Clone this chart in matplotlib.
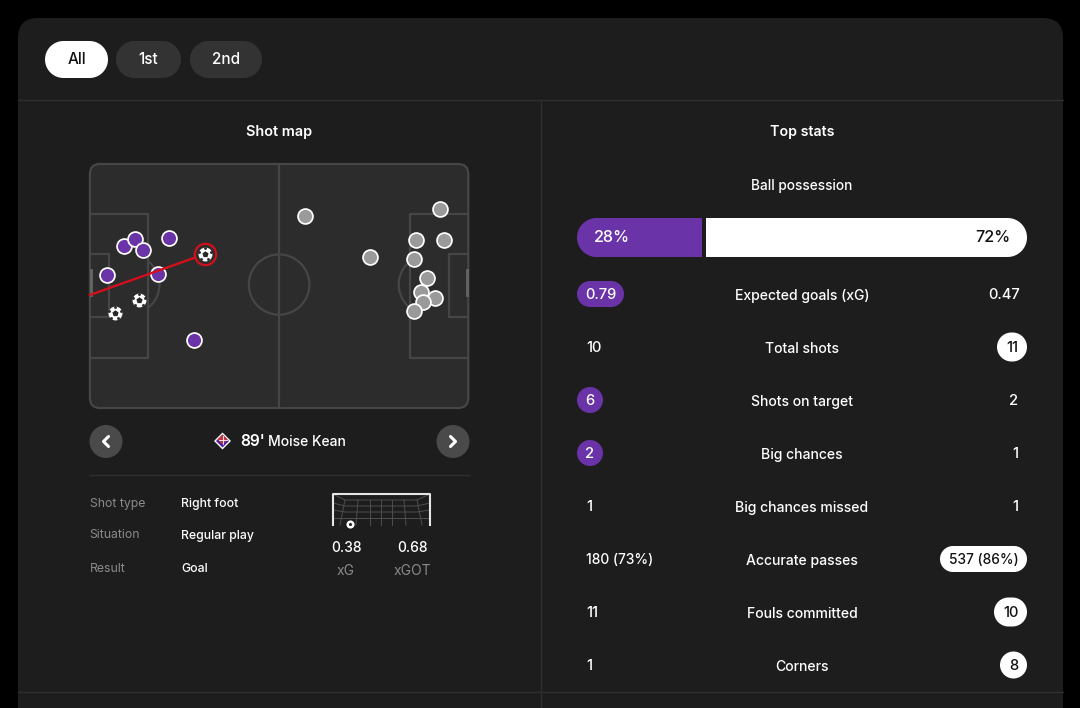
import matplotlib
matplotlib.use("Agg")
import numpy as np
import matplotlib.pyplot as plt
from matplotlib.patches import FancyBboxPatch, Rectangle, Circle, Arc, Polygon

plt.rcParams['font.family'] = ['Inter', 'DejaVu Sans']

# filtros de periodo
periods = ["All", "1st", "2nd"]

# tiros en metros (campo 105 x 68)
home_x = [4.7, 9.4, 12.5, 14.7, 21.9, 18.8, 28.8]
home_y = [30.9, 22.9, 20.9, 24.0, 20.6, 30.7, 49.0]
goal_x = [6.9, 13.6, 31.9]
goal_y = [41.5, 37.9, 25.1]
away_x = [59.8, 77.6, 97.2, 90.6, 98.3, 89.8, 93.6, 92.0, 95.8, 92.5, 89.8]
away_y = [14.5, 25.9, 12.5, 21.2, 21.2, 26.5, 31.8, 35.7, 37.3, 38.5, 41.0]
selected_x = 31.9
selected_y = 25.1
shot_end_x = 0.0
shot_end_y = 36.5

# detalle del tiro
detail_labels = ["Shot type", "Situation", "Result"]
detail_values = ["Right foot", "Regular play", "Goal"]
xg_values = ["0.38", "0.68"]
xg_labels = ["xG", "xGOT"]

# estadisticas
possession_home = 28
possession_away = 72
stat_names = ["Expected goals (xG)", "Total shots", "Shots on target", "Big chances",
              "Big chances missed", "Accurate passes", "Fouls committed", "Corners"]
stat_home = ["0.79", "10", "6", "2", "1", "180 (73%)", "11", "1"]
stat_away = ["0.47", "11", "2", "1", "1", "537 (86%)", "10", "8"]
# quien destaca en cada fila
stat_winner = ["home", "away", "home", "home", None, "away", "away", "away"]

BG = "#1d1d1d"
LINE = "#2e2e2e"
PURPLE = "#6b33a8"
PITCH = "#2c2c2c"
PITCH_LINE = "#464646"
RED = "#d30f1c"
GREY = "#9a9a9a"
MUTED = "#8a8a8a"

fig = plt.figure(figsize=(10.8, 7.08), dpi=100, facecolor="black")
ax = fig.add_axes([0, 0, 1, 1])
ax.set_xlim(0, 1080)
ax.set_ylim(708, 0)
ax.axis("off")


def pill(x0, x1, y0, y1, color, z=2):
    # bezier del boxstyle queda cuadrado, mejor arcos de verdad
    r = min(x1 - x0, y1 - y0) / 2
    t = np.linspace(-np.pi / 2, np.pi / 2, 40)
    xs = np.r_[x1 - r + r * np.cos(t), x0 + r - r * np.cos(t[::-1])[::-1]]
    ys = np.r_[(y0 + y1) / 2 + r * np.sin(t), (y0 + y1) / 2 + r * np.sin(t[::-1])]
    p = Polygon(np.c_[xs, ys], closed=True, fc=color, ec="none", zorder=z)
    ax.add_patch(p)
    return p


def label(x, y, s, size=10.4, color="white", ha="center", weight=500, z=5):
    ax.text(x, y + 1, s, fontsize=size, color=color, ha=ha, va="center", fontweight=weight, zorder=z)


def ball(target, x, y, r, size, core):
    # balon: blanco, pentagono al centro y muescas en el borde
    target.scatter([x], [y], s=size, c="white", linewidths=0, zorder=6)
    target.scatter([x], [y], s=core, c="#2a2a2a", marker="p", linewidths=0, zorder=7)
    a = np.deg2rad(np.arange(5) * 72 - 90)
    target.scatter(x + r * np.cos(a), y + r * np.sin(a), s=core / 5, c=PITCH, linewidths=0, zorder=7)


# tarjeta
ax.add_patch(FancyBboxPatch((38, 38), 1005, 700, boxstyle="round,pad=20,rounding_size=20",
                            fc=BG, ec="none", zorder=1))
ax.plot([18, 1063], [100, 100], color=LINE, lw=1, zorder=2)
ax.plot([18, 1063], [692, 692], color=LINE, lw=1, zorder=2)
ax.plot([541, 541], [100, 708], color=LINE, lw=1, zorder=2)

# botones
btn_x0 = [45, 116, 190]
btn_x1 = [108, 181, 262]
for i, name in enumerate(periods):
    pill(btn_x0[i], btn_x1[i], 41, 78, "white" if i == 0 else "#333333")
    label((btn_x0[i] + btn_x1[i]) / 2, 59, name, size=11, color="#111111" if i == 0 else "white", weight=500)

label(279.5, 131, "Shot map", size=10.4, weight=600)
label(802, 131, "Top stats", size=10.2, weight=600)

# campo
pitch = fig.add_axes([89.9 / 1080, 1 - 408 / 708, 378.4 / 1080, 244 / 708])
pitch.set_xlim(0, 105)
pitch.set_ylim(68, 0)
pitch.axis("off")
pitch.patch.set_alpha(0)
border = FancyBboxPatch((2.8, 2.8), 99.4, 62.4, boxstyle="round,pad=2.8,rounding_size=2.8",
                        fc=PITCH, ec=PITCH_LINE, lw=1.6, clip_on=False, zorder=1)
pitch.add_patch(border)
for side in (0, 1):
    def mx(v):
        return 105 - v if side else v
    pitch.plot([mx(0), mx(16.1), mx(16.1), mx(0)], [13.9, 13.9, 54.1, 54.1], color=PITCH_LINE, lw=1.6, zorder=2)
    pitch.plot([mx(0), mx(5.4), mx(5.4), mx(0)], [25.1, 25.1, 42.6, 42.6], color=PITCH_LINE, lw=1.6, zorder=2)
    pitch.add_patch(Arc((mx(11), 33.6), 16.6, 16.6, theta1=(127 if side else -53), theta2=(233 if side else 53),
                        color=PITCH_LINE, lw=1.6, zorder=2))
    pitch.plot([mx(0.3), mx(0.3)], [29.5, 36.5], color="#666666", lw=2, zorder=2, clip_on=False)
pitch.plot([52.5, 52.5], [0, 68], color=PITCH_LINE, lw=1.6, zorder=2)
pitch.add_patch(Circle((52.5, 33.6), 8.4, fc="none", ec=PITCH_LINE, lw=1.6, zorder=2))

pitch.scatter(away_x, away_y, s=115, c=GREY, edgecolors="white", linewidths=1.25, zorder=3)
pitch.scatter(home_x, home_y, s=115, c=PURPLE, edgecolors="white", linewidths=1.25, zorder=3)
pitch.plot([selected_x, shot_end_x], [selected_y, shot_end_y], color=RED, lw=1.7, zorder=4, clip_on=False)
pitch.scatter([selected_x], [selected_y], s=235, c=PITCH, edgecolors=RED, linewidths=1.6, zorder=5)
for gx, gy in zip(goal_x, goal_y):
    ball(pitch, gx, gy, 1.7, 100, 22)

# navegacion del tiro
for cx, d in ((106, -1), (453, 1)):
    ax.add_patch(Circle((cx, 441.5), 16.5, fc="#4a4a4a", ec="none", zorder=3))
    ax.plot([cx - 2.5 * d, cx + 2.5 * d, cx - 2.5 * d], [436.5, 441.5, 446.5], color="white", lw=2.2,
            solid_capstyle="round", solid_joinstyle="round", zorder=4)

# escudo
ax.add_patch(Polygon([(222.5, 432.5), (231, 441), (222.5, 449.5), (214, 441)], fc="white", ec="none", zorder=3))
ax.add_patch(Polygon([(222.5, 434.5), (229, 441), (222.5, 447.5), (216, 441)], fc="#4a22a0", ec="none", zorder=4))
ax.add_patch(Polygon([(222.5, 434.5), (227.5, 439.5), (222.5, 444.5), (217.5, 439.5)], fc="#c4343a", ec="none", zorder=5))
ax.plot([222.5, 222.5], [435.5, 444], color="white", lw=0.6, zorder=6)
ax.plot([218.5, 226.5], [439.5, 439.5], color="white", lw=0.6, zorder=6)
label(240, 440, "89'", size=11.2, ha="left", weight=600)
label(268, 440.5, "Moise Kean", size=10, ha="left")

ax.plot([90, 469], [474.5, 474.5], color=LINE, lw=1, zorder=2)

# detalle
detail_y = [502.5, 534.5, 568]
for i in range(3):
    label(89.5, detail_y[i], detail_labels[i], size=8.8, color=MUTED, ha="left", weight=400)
    label(181, detail_y[i], detail_values[i], size=8.8, ha="left")

# porteria
net_c = "#4e4e4e"
for top, bot in ((345, 340), (358, 356), (370, 370), (381, 381), (392, 392), (404, 406), (417, 422)):
    ax.plot([top, bot], [500, 525], color=net_c, lw=0.7, zorder=2)
for ny, left_y in ((500, 494), (506, 503), (512, 510), (518, 518)):
    ax.plot([333, 345, 417, 430], [left_y, ny, ny, left_y], color=net_c, lw=0.7, zorder=2)
ax.plot([333, 333, 430, 430], [525, 493.5, 493.5, 525], color="#e6e6e6", lw=1.5, zorder=3)
ax.scatter([350], [524], s=34, c="white", linewidths=0, zorder=4)
ax.scatter([350], [524], s=7, c="#2a2a2a", marker="p", linewidths=0, zorder=5)
for i, cx in enumerate((346, 412)):
    label(cx, 546.5, xg_values[i], size=10)
    label(cx, 570, xg_labels[i], size=10, color=MUTED, weight=400)

# posesion
label(802, 185, "Ball possession", size=9.8)
bar_x0, bar_x1, gap = 577, 1027, 4
split = bar_x0 + (bar_x1 - bar_x0 - gap) * possession_home / (possession_home + possession_away)
clip = pill(bar_x0, bar_x1, 218, 257, "none", z=1)
left = Rectangle((bar_x0, 218), split - bar_x0, 39, fc=PURPLE, ec="none", zorder=3)
right = Rectangle((split + gap, 218), bar_x1 - split - gap, 39, fc="white", ec="none", zorder=3)
ax.add_patch(left)
ax.add_patch(right)
left.set_clip_path(clip)
right.set_clip_path(clip)
label(594, 236.5, f"{possession_home}%", size=11.6, ha="left")
label(1010, 236.5, f"{possession_away}%", size=11.6, color="#111111", ha="right")

# filas de estadisticas
row_y = [294, 347, 400, 453, 506, 559, 612, 665]
home_left = [586, 586, 590, 590, 589, 586, 586, 589]
away_center = [1004, 1012, 1014, 1015, 1015, 984, 1010, 1014]
home_pills = {0: (577, 624), 2: (577, 603), 3: (577, 603)}
away_pills = {1: (997, 1027), 5: (940, 1027), 6: (994, 1027), 7: (1000, 1027)}
for i, name in enumerate(stat_names):
    y = row_y[i]
    label(802, y + 0.7, name, size=10.1)
    size = 9.9 if len(stat_home[i]) > 5 else 10.6
    if stat_winner[i] == "home":
        x0, x1 = home_pills[i]
        pill(x0, x1, y - 13, y + 13, PURPLE)
        label((x0 + x1) / 2, y, stat_home[i], size=size)
    else:
        label(home_left[i] if len(stat_home[i]) > 1 else 589, y, stat_home[i], size=size,
              ha="left" if len(stat_home[i]) > 1 else "center")
    if stat_winner[i] == "away":
        x0, x1 = away_pills[i]
        h = 14.5 if (x1 - x0) <= 33 else 13
        pill(x0, x1, y - h, y + h, "white")
        label((x0 + x1) / 2, y, stat_away[i], size=size, color="#111111")
    else:
        label(away_center[i], y, stat_away[i], size=size)

fig.savefig("out.png", dpi=100, facecolor="black")
